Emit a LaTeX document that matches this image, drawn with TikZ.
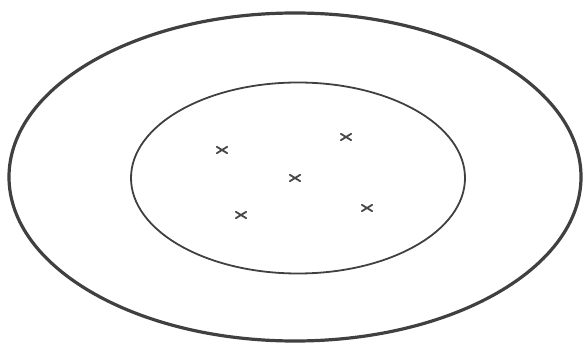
\documentclass[tikz,border=0pt]{standalone}
\usetikzlibrary{shapes.geometric}
\begin{document}
\begin{tikzpicture}[x=1pt,y=-1pt,
  ring/.style={draw=black!75,ellipse,inner sep=0pt},
  xmark/.style={rectangle,minimum width=10pt,minimum height=6pt,inner sep=0pt},
  xline/.style={draw=black!72,line width=1.8pt,line cap=round}]
\useasboundingbox (0,0) rectangle (583,347);
\node[ring,line width=3.2pt,minimum width=572pt,minimum height=328pt] (outer) at (295,177) {};
\node[ring,line width=1.8pt,minimum width=334pt,minimum height=191pt] (inner) at (298,178) {};
\node[xmark] (m1) at (222,150) {};
\node[xmark] (m2) at (346,137) {};
\node[xmark] (m3) at (295,178) {};
\node[xmark] (m4) at (241,215) {};
\node[xmark] (m5) at (367,208) {};
\foreach \m in {m1,m2,m3,m4,m5}{
  \draw[xline] (\m.north west) -- (\m.south east);
  \draw[xline] (\m.south west) -- (\m.north east);
}
\end{tikzpicture}
\end{document}
